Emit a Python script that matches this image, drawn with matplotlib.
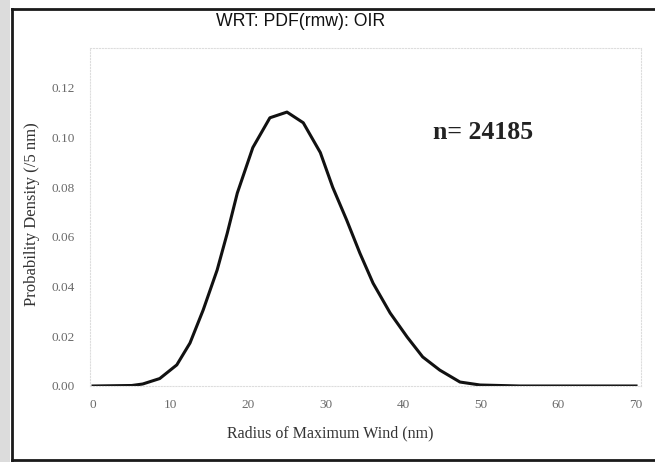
import numpy as np
import matplotlib.pyplot as plt
from matplotlib.lines import Line2D
from matplotlib.patches import Rectangle

# radius of maximum wind (nm) and probability density per 5 nm bin
rmw = [0, 5.0, 6.4, 8.6, 10.8, 12.5, 14.2, 16.0, 17.3, 18.6, 20.6, 22.8, 25.0,
       27.1, 29.3, 30.9, 32.7, 34.4, 36.1, 38.3, 40.5, 42.5, 44.7, 47.3, 49.9,
       55.0, 70.0]
density = [0.0, 0.0002, 0.0008, 0.0030, 0.0085, 0.0173, 0.0306, 0.0467, 0.0615,
           0.0777, 0.0960, 0.1080, 0.1103, 0.1060, 0.0940, 0.0800, 0.0668,
           0.0535, 0.0414, 0.0294, 0.0197, 0.0117, 0.0064, 0.0016, 0.0004,
           0.0, 0.0]

x_ticks = [0, 10, 20, 30, 40, 50, 60, 70]
y_ticks = [0.00, 0.02, 0.04, 0.06, 0.08, 0.10, 0.12]
n_obs = 24185

W, H = 655, 462
fig = plt.figure(figsize=(W / 100, H / 100), dpi=100)
fig.patch.set_facecolor('white')

serif = ['Liberation Serif', 'DejaVu Serif']

# plot area in pixel coordinates
left, right, top, bottom = 90, 641, 48, 386
ax = fig.add_axes([left / W, 1 - bottom / H, (right - left) / W, (bottom - top) / H])
ax.plot(rmw, density, color='#111111', lw=2.2, solid_joinstyle='round')

ax.set_xlim(-0.39, 70.64)
ax.set_ylim(0, 0.1361)
ax.set_xticks(x_ticks)
ax.set_yticks(y_ticks)
ax.set_xticklabels([str(v) for v in x_ticks], fontfamily=serif, fontsize=9.5, color='#6a6a6a')
ax.set_yticklabels([f"{v:.2f}" for v in y_ticks], fontfamily=serif, fontsize=9.5, color='#6a6a6a')
ax.tick_params(axis='both', length=0)
ax.tick_params(axis='y', pad=11)
ax.tick_params(axis='x', pad=9)

for s in ax.spines.values():
    s.set_color('#dddddd')
    s.set_linestyle(':')
    s.set_linewidth(0.8)

ax.set_xlabel('Radius of Maximum Wind (nm)', fontfamily=serif, fontsize=11.5,
              color='#333333')
ax.xaxis.set_label_coords((330 - left) / (right - left), -(433 - bottom) / (bottom - top))
ax.xaxis.label.set_va('center')
ax.set_ylabel('Probability Density (/5 nm)', fontfamily=serif, fontsize=12,
              color='#333333')
ax.yaxis.set_label_coords(-(left - 32) / (right - left), (bottom - 214) / (bottom - top))
ax.yaxis.label.set_va('center')

ax.text(0.713, 0.75, f'n= {n_obs}', transform=ax.transAxes, ha='center', va='center',
        fontfamily=serif, fontsize=18.5, fontweight='bold', color='#222222')

fig.text(301 / W, 1 - 21 / H, 'WRT: PDF(rmw): OIR', ha='center', va='center',
         fontfamily=['Liberation Sans', 'DejaVu Sans'], fontsize=12.7, color='#111111')

# scanned page frame
fig.patches.append(Rectangle((0, 0), 10 / W, 1, transform=fig.transFigure,
                             facecolor='#dcdcdc', edgecolor='none'))
frame = dict(transform=fig.transFigure, color='#1a1a1a', lw=2)
fig.lines.append(Line2D([12 / W, 12 / W], [0, 1 - 9 / H], **frame))
fig.lines.append(Line2D([12 / W, 1], [1 - 9 / H, 1 - 9 / H], **frame))
fig.lines.append(Line2D([12 / W, 1], [1 - 460 / H, 1 - 460 / H], **frame))

fig.savefig('out.png', dpi=100)
